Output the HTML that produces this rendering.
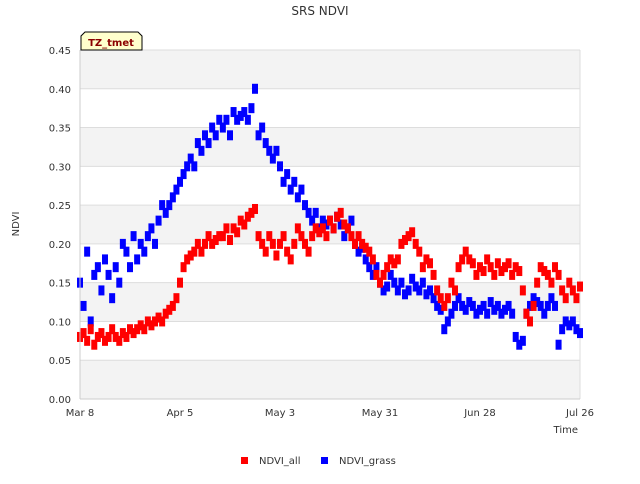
<!DOCTYPE html>
<html><head><meta charset="utf-8"><style>
body{margin:0;background:#fff;font-family:"DejaVu Sans",sans-serif}
</style></head><body>
<svg width="640" height="480" xmlns="http://www.w3.org/2000/svg" font-family="DejaVu Sans, sans-serif">
<rect width="640" height="480" fill="#fff"/>
<text x="320" y="15" text-anchor="middle" font-size="12" fill="#333">SRS NDVI</text>
<g id="bands"></g>
<g id="grid"></g>
<g id="ticks"></g>
<g id="marks"></g>
<line x1="80" y1="50" x2="80" y2="399" stroke="#ccc"/>
<line x1="80" y1="399" x2="580" y2="399" stroke="#ccc"/>
<text x="19" y="224" transform="rotate(-90 19 224)" text-anchor="middle" font-size="10" fill="#333">NDVI</text>
<text x="578" y="433" text-anchor="end" font-size="10" fill="#333">Time</text>
<g>
<path d="M81,50 L81,36 L85,32 L138,32 L142,36 L142,50 Z" fill="#ffffcc" stroke="#000"/>
<text x="111" y="46" text-anchor="middle" font-size="10" font-weight="bold" fill="#8b0000">TZ_tmet</text>
</g>
<g>
<g><rect x="241" y="457" width="7" height="7" fill="#f00"/><text x="259" y="464" font-size="10" fill="#333">NDVI_all</text></g>
<g><rect x="321" y="457" width="7" height="7" fill="#00f"/><text x="339" y="464" font-size="10" fill="#333">NDVI_grass</text></g>
</g>
</svg>
<script>
const yTicks=[0,0.05,0.1,0.15,0.2,0.25,0.3,0.35,0.4,0.45];
const xTickLabels=["Mar 8","Apr 5","May 3","May 31","Jun 28","Jul 26"];
const xTickDays=[0,28,56,84,112,140];
const ndviAll=[.08,.085,.075,.09,.07,.08,.085,.075,.08,.09,
.08,.075,.085,.08,.09,.085,.09,.095,.09,.10,
.095,.10,.105,.10,.11,.115,.12,.13,.15,.17,
.18,.185,.19,.20,.19,.20,.21,.20,.205,.21,
.21,.22,.205,.22,.215,.23,.225,.235,.24,.245,
.21,.20,.19,.21,.20,.185,.20,.21,.19,.18,
.20,.22,.21,.20,.19,.21,.22,.215,.22,.21,
.23,.22,.235,.24,.225,.22,.21,.20,.21,.20,
.195,.19,.18,.16,.15,.16,.17,.18,.175,.18,
.20,.205,.21,.215,.20,.19,.17,.18,.175,.16,
.14,.13,.12,.13,.15,.14,.17,.18,.19,.18,
.175,.16,.17,.165,.18,.17,.16,.175,.165,.17,
.175,.16,.17,.165,.14,.11,.10,.12,.15,.17,
.165,.16,.15,.17,.16,.14,.13,.15,.14,.13,.145];
const ndviGrass=[.15,.12,.19,.10,.16,.17,.14,.18,.16,.13,
.17,.15,.20,.19,.17,.21,.18,.20,.19,.21,
.22,.20,.23,.25,.24,.25,.26,.27,.28,.29,
.30,.31,.30,.33,.32,.34,.33,.35,.34,.36,
.35,.36,.34,.37,.36,.365,.37,.36,.375,.40,
.34,.35,.33,.32,.31,.32,.30,.28,.29,.27,
.28,.26,.27,.25,.24,.23,.24,.22,.23,.225,
.23,.22,.235,.225,.21,.22,.23,.20,.19,.195,
.18,.17,.16,.17,.15,.14,.145,.16,.15,.14,
.15,.135,.14,.155,.145,.14,.15,.135,.14,.13,
.12,.115,.09,.10,.11,.12,.13,.12,.115,.125,
.12,.11,.115,.12,.11,.125,.115,.12,.11,.115,
.12,.11,.08,.07,.075,.11,.12,.13,.125,.12,
.11,.12,.13,.12,.07,.09,.10,.095,.10,.09,.085];
const NS="http://www.w3.org/2000/svg";
const X0=80,X1=580,Y0=399,Y1=50;
function xs(d){return X0+(X1-X0)*d/140;}
function ys(v){return Y0-(Y0-Y1)*v/0.45;}
function mk(tag,attrs,parent){const e=document.createElementNS(NS,tag);for(const k in attrs)e.setAttribute(k,attrs[k]);parent.appendChild(e);return e;}
const bands=document.getElementById('bands'),grid=document.getElementById('grid'),ticks=document.getElementById('ticks'),marks=document.getElementById('marks');
for(let i=0;i<yTicks.length-1;i++){
 const r=mk('rect',{x:X0,y:ys(yTicks[i+1]),width:X1-X0,height:ys(yTicks[i])-ys(yTicks[i+1]),fill:(i%2===0)?'#f3f3f3':'#fff'},bands);
 
 
}
yTicks.forEach(v=>{
 const l=mk('line',{x1:X0,x2:X1,y1:ys(v),y2:ys(v),stroke:'#ddd'},grid);
 
 
 const t=mk('text',{x:71,y:ys(v)+4,'text-anchor':'end','font-size':10,fill:'#333'},ticks);
 t.textContent=v.toFixed(2);
 
 
});
mk('line',{x1:X1,x2:X1,y1:Y1,y2:Y0,stroke:'#ddd'},grid);
xTickLabels.forEach((s,i)=>{
 const t=mk('text',{x:xs(xTickDays[i]),y:416,'text-anchor':'middle','font-size':10,fill:'#333'},ticks);
 t.textContent=s;
 
 
});
function series(arr,color,name){
 arr.forEach((v,d)=>{
  const r=mk('rect',{x:xs(d)-3,y:ys(v)-5,width:6,height:10,fill:color},marks);
  
  
 });
}
series(ndviGrass,'#0000ff','ndvi-grass-point');
series(ndviAll,'#ff0000','ndvi-all-point');
</script>
</body></html>
